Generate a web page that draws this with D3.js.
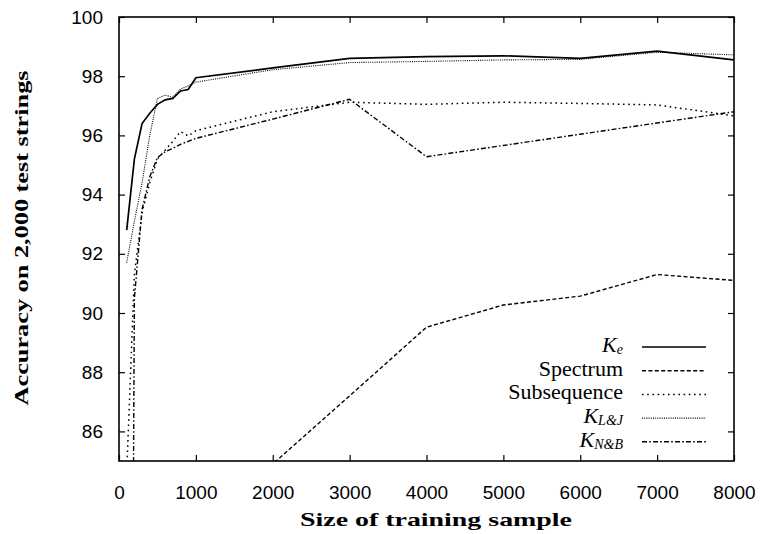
<!DOCTYPE html>
<html>
<head>
<meta charset="utf-8">
<script src="https://cdn.jsdelivr.net/npm/d3@7"></script>
<style>
  body { margin: 0; background: #fff; }
  svg { display: block; }
</style>
</head>
<body>
<div id="chart"></div>
<script>
// training sample sizes
const sizes = [100, 200, 300, 400, 500, 600, 700, 800, 900, 1000, 2000, 3000, 4000, 5000, 6000, 7000, 8000];

// accuracy values
const kE      = [92.8, 95.2, 96.4, 96.75, 97.05, 97.2, 97.25, 97.5, 97.55, 97.95, 98.28, 98.6, 98.66, 98.69, 98.6, 98.85, 98.55];
const kLJ     = [91.7, 93.1, 94.4, 96.0, 97.25, 97.36, 97.29, 97.57, 97.67, 97.8, 98.22, 98.46, 98.5, 98.55, 98.57, 98.81, 98.72];
const subseq  = [84.6, 91.3, 93.4, 94.4, 95.2, 95.5, 95.8, 96.13, 95.98, 96.16, 96.8, 97.12, 97.05, 97.12, 97.08, 97.03, 96.66];
const kNB     = [40, 90.5, 93.5, 94.6, 95.25, 95.45, 95.56, 95.7, 95.8, 95.9, 96.55, 97.22, 95.28, 95.66, 96.04, 96.42, 96.8];
const specX   = [1000, 2000, 3000, 4000, 5000, 6000, 7000, 8000];
const spectrum = [80.5, 84.9, 87.2, 89.52, 90.27, 90.57, 91.3, 91.1];

const xTicks = [0, 1000, 2000, 3000, 4000, 5000, 6000, 7000, 8000];
const yTicks = [86, 88, 90, 92, 94, 96, 98, 100];

const width = 766, height = 534;
const margin = {top: 17, right: 32, bottom: 73, left: 119};
const sans = '"Liberation Sans", Arial, sans-serif';
const serif = '"Liberation Serif", "Times New Roman", serif';

const svg = d3.select('#chart').append('svg')
  .attr('width', width).attr('height', height);

const x = d3.scaleLinear().domain([0, 8000]).range([margin.left, width - margin.right]);
const y = d3.scaleLinear().domain([85, 100]).range([height - margin.bottom, margin.top]);

svg.append('clipPath').attr('id', 'plotclip')
  .append('rect')
  .attr('x', x(0)).attr('y', y(100))
  .attr('width', x(8000) - x(0)).attr('height', y(85) - y(100));

// series table for lines + legend
const series = [
  {name: 'Ke',          xs: sizes, ys: kE,       dash: null,        w: 1.7},
  {name: 'Spectrum',    xs: specX, ys: spectrum, dash: '4,2.4',     w: 1.4},
  {name: 'Subsequence', xs: sizes, ys: subseq,   dash: '1.6,3.6',   w: 1.5},
  {name: 'KLJ',         xs: sizes, ys: kLJ,      dash: '1,1.2',     w: 1.1},
  {name: 'KNB',         xs: sizes, ys: kNB,      dash: '5,2.2,1.6,2.2', w: 1.4}
];

const line = d3.line().x(d => x(d[0])).y(d => y(d[1]));

const plot = svg.append('g').attr('clip-path', 'url(#plotclip)');
series.forEach(s => {
  plot.append('path')
    .datum(s.xs.map((v, i) => [v, s.ys[i]]))
    .attr('fill', 'none')
    .attr('stroke', '#000')
    .attr('stroke-width', s.w)
    .attr('stroke-dasharray', s.dash)
    .attr('d', line);
});

// axes, ticks inward on all four sides
const tl = 6;
svg.append('g').attr('transform', `translate(0,${y(85)})`)
  .call(d3.axisBottom(x).tickValues(xTicks).tickSize(-tl).tickPadding(tl + 19).tickFormat(d3.format('d')))
  .call(g => g.select('.domain').remove());
svg.append('g').attr('transform', `translate(0,${y(100)})`)
  .call(d3.axisTop(x).tickValues(xTicks).tickSize(-tl).tickFormat(''))
  .call(g => g.select('.domain').remove());
svg.append('g').attr('transform', `translate(${x(0)},0)`)
  .call(d3.axisLeft(y).tickValues(yTicks).tickSize(-tl).tickPadding(tl + 10))
  .call(g => g.select('.domain').remove());
svg.append('g').attr('transform', `translate(${x(8000)},0)`)
  .call(d3.axisRight(y).tickValues(yTicks).tickSize(-tl).tickFormat(''))
  .call(g => g.select('.domain').remove());
svg.selectAll('.tick line').attr('stroke', '#000').attr('stroke-width', 1.2);
svg.selectAll('.tick text')
  .attr('fill', '#000')
  .attr('font-family', sans)
  .attr('font-size', 19);

svg.append('rect')
  .attr('x', x(0)).attr('y', y(100))
  .attr('width', x(8000) - x(0)).attr('height', y(85) - y(100))
  .attr('fill', 'none').attr('stroke', '#000').attr('stroke-width', 1.6);

// axis titles
svg.append('text')
  .attr('x', 436).attr('y', 526)
  .attr('text-anchor', 'middle')
  .attr('font-family', serif).attr('font-weight', 'bold').attr('font-size', 19)
  .attr('textLength', 272).attr('lengthAdjust', 'spacingAndGlyphs')
  .text('Size of training sample');
svg.append('text')
  .attr('transform', `translate(28,238) rotate(-90)`)
  .attr('text-anchor', 'middle')
  .attr('font-family', serif).attr('font-weight', 'bold').attr('font-size', 19)
  .attr('textLength', 335).attr('lengthAdjust', 'spacingAndGlyphs')
  .text('Accuracy on 2,000 test strings');

// legend
const legX = 623, legY = 347, legStep = 23.7;
const leg = svg.append('g').attr('font-family', serif).attr('font-size', 22);
series.forEach((s, i) => {
  const yy = legY + i * legStep;
  leg.append('line')
    .attr('x1', 642).attr('x2', 706).attr('y1', yy).attr('y2', yy)
    .attr('stroke', '#000').attr('stroke-width', s.w).attr('stroke-dasharray', s.dash);
  const t = leg.append('text').attr('x', legX).attr('y', yy + 5).attr('text-anchor', 'end');
  if (s.name === 'Ke' || s.name === 'KLJ' || s.name === 'KNB') {
    t.append('tspan').attr('font-style', 'italic').text('K');
    const sub = s.name === 'Ke' ? 'e' : (s.name === 'KLJ' ? 'L&J' : 'N&B');
    t.append('tspan').attr('font-style', 'italic').attr('font-size', 14)
      .attr('dy', 2).text(sub);
  } else {
    t.text(s.name);
  }
});
</script>
</body>
</html>
